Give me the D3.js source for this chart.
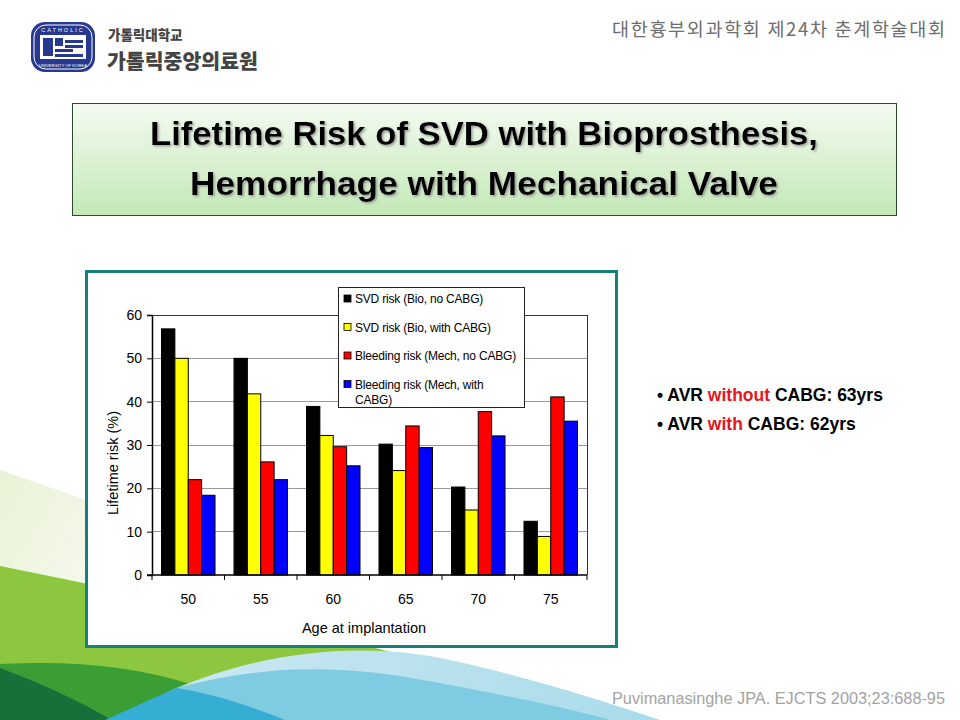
<!DOCTYPE html>
<meta charset="utf-8">
<script src="https://cdn.jsdelivr.net/npm/d3@7"></script>
<style>
  body { margin: 0; background: #fff; }
  svg { display: block; }
</style>
<body>
<div id="slide"></div>
<script>

// chart data
var ages = ["50", "55", "60", "65", "70", "75"];
var seriesNames = [
  "SVD risk (Bio, no CABG)",
  "SVD risk (Bio, with CABG)",
  "Bleeding risk (Mech, no CABG)",
  "Bleeding risk (Mech, with CABG)"
];
var seriesColors = ["#000000", "#ffff00", "#ff0000", "#0000ff"];
var svdNoCabg   = [56.8, 50.0, 38.9, 30.2, 20.3, 12.4];
var svdCabg     = [50.0, 41.8, 32.2, 24.1, 15.0, 8.9];
var bleedNoCabg = [22.0, 26.1, 29.6, 34.4, 37.7, 41.1];
var bleedCabg   = [18.4, 22.0, 25.2, 29.4, 32.1, 35.5];
var yTicks = [0, 10, 20, 30, 40, 50, 60];

var series = [svdNoCabg, svdCabg, bleedNoCabg, bleedCabg];

var W = 960, H = 720;
var svg = d3.select("#slide").append("svg")
  .attr("width", W).attr("height", H);

var defs = svg.append("defs");
var tg = defs.append("linearGradient").attr("id", "titleGrad")
  .attr("x1", 0).attr("y1", 0).attr("x2", 0).attr("y2", 1);
tg.append("stop").attr("offset", "0%").attr("stop-color", "#f4fbf1");
tg.append("stop").attr("offset", "100%").attr("stop-color", "#c3e8b6");

var pg = defs.append("linearGradient").attr("id", "paleGrad")
  .attr("x1", 0).attr("y1", 0).attr("x2", 1).attr("y2", 0.4);
pg.append("stop").attr("offset", "0%").attr("stop-color", "#e9f2d6");
pg.append("stop").attr("offset", "100%").attr("stop-color", "#ffffff");

var lb = defs.append("linearGradient").attr("id", "lightBlue")
  .attr("x1", 0).attr("y1", 0).attr("x2", 1).attr("y2", 0);
lb.append("stop").attr("offset", "0%").attr("stop-color", "#cde9f1");
lb.append("stop").attr("offset", "100%").attr("stop-color", "#a9dbea");

var sh = defs.append("filter").attr("id", "shadow");
sh.append("feDropShadow").attr("dx", 1.5).attr("dy", 1.5)
  .attr("stdDeviation", 0.8).attr("flood-color", "#888").attr("flood-opacity", 0.8);

// ---- background decoration (bottom left waves)
var deco = svg.append("g");
deco.append("path").attr("d", "M0,470 L0,570 L260,640 L260,560 Z").attr("fill", "url(#paleGrad)");
deco.append("path").attr("d", "M0,566 Q230,612 450,666 L330,720 L0,720 Z").attr("fill", "#8dc63f");
deco.append("path").attr("d", "M0,664 Q110,658 190,684 L240,720 L0,720 Z").attr("fill", "#3a9e34");
deco.append("path").attr("d", "M0,668 Q60,690 112,720 L0,720 Z").attr("fill", "#16703a");
deco.append("path").attr("d", "M172,690 C260,652 360,640 450,660 C540,680 600,700 660,720 L140,720 Z").attr("fill", "url(#lightBlue)");
deco.append("path").attr("d", "M176,688 C250,668 320,664 400,676 C480,690 560,706 610,720 L140,720 Z").attr("fill", "#7fcbe2");
deco.append("path").attr("d", "M176,688 C215,694 250,706 285,720 L105,720 Z").attr("fill", "#36aed4");

// ---- header
var logo = svg.append("g").attr("transform", "translate(31,22)");
logo.append("rect").attr("width", 64).attr("height", 50).attr("rx", 14).attr("fill", "#26388f");
logo.append("rect").attr("x", 3).attr("y", 3).attr("width", 58).attr("height", 44).attr("rx", 12)
  .attr("fill", "none").attr("stroke", "#fff").attr("stroke-width", 1);
logo.append("text").attr("x", 32).attr("y", 10).attr("text-anchor", "middle")
  .attr("font-family", "Liberation Sans, Arial").attr("font-size", 5.5).attr("fill", "#fff")
  .attr("letter-spacing", 2).text("CATHOLIC");
logo.append("text").attr("x", 32).attr("y", 45).attr("text-anchor", "middle")
  .attr("font-family", "Liberation Sans, Arial").attr("font-size", 4.2).attr("fill", "#fff")
  .text("UNIVERSITY OF KOREA");
logo.append("rect").attr("x", 9).attr("y", 13).attr("width", 46).attr("height", 24).attr("fill", "#fff");
[[12, 16, 10, 18], [24, 16, 8, 8], [34, 18, 18, 3], [34, 23, 18, 3], [24, 27, 18, 3], [24, 32, 28, 3], [12, 16, 2, 18]]
  .forEach(function(r) {
    logo.append("rect").attr("x", r[0]).attr("y", r[1]).attr("width", r[2]).attr("height", r[3])
      .attr("fill", "#26388f");
  });

svg.append("text").attr("x", 108).attr("y", 40)
  .attr("font-family", "Noto Sans CJK KR").attr("font-weight", 900)
  .attr("font-size", 13.5).attr("fill", "#444").text("가톨릭대학교");
svg.append("text").attr("x", 107).attr("y", 68.5)
  .attr("font-family", "Noto Sans CJK KR").attr("font-weight", 900)
  .attr("font-size", 20.5).attr("fill", "#444").text("가톨릭중앙의료원");

svg.append("text").attr("x", 612).attr("y", 36)
  .attr("font-family", "Noto Sans CJK KR").attr("font-size", 18.5)
  .attr("textLength", 333).attr("lengthAdjust", "spacing")
  .attr("fill", "#6e6e6e").text("대한흉부외과학회 제24차 춘계학술대회");

// ---- title box
svg.append("rect").attr("x", 72.5).attr("y", 103.5).attr("width", 824).attr("height", 112)
  .attr("fill", "url(#titleGrad)").attr("stroke", "#2e4a2e").attr("stroke-width", 1);
var titleLines = ["Lifetime Risk of SVD with Bioprosthesis,", "Hemorrhage with Mechanical Valve"];
var titleWidths = [668, 588];
svg.selectAll(".title").data(titleLines).enter().append("text")
  .attr("x", 484).attr("y", function(d, i) { return 145 + i * 50; })
  .attr("text-anchor", "middle")
  .attr("textLength", function(d, i) { return titleWidths[i]; })
  .attr("lengthAdjust", "spacingAndGlyphs")
  .attr("font-family", "Liberation Sans, Arial").attr("font-weight", "bold")
  .attr("font-size", 33).attr("fill", "#000").attr("filter", "url(#shadow)")
  .text(function(d) { return d; });

// ---- chart frame
svg.append("rect").attr("x", 86.5).attr("y", 271.5).attr("width", 530).attr("height", 375)
  .attr("fill", "#fff").attr("stroke", "#17807b").attr("stroke-width", 3);

var plot = {left: 152, right: 587, top: 315, bottom: 575};

var x = d3.scaleBand().domain(ages)
  .range([plot.left, plot.right]).paddingInner(0.262).paddingOuter(0.131);
var xs = d3.scaleBand().domain(d3.range(series.length))
  .range([0, x.bandwidth()]);
var y = d3.scaleLinear().domain([0, 60]).range([plot.bottom, plot.top]);

var chart = svg.append("g").attr("font-family", "Liberation Sans, Arial");

// gridlines
chart.selectAll(".grid").data(yTicks.slice(1)).enter().append("line")
  .attr("x1", plot.left).attr("x2", plot.right)
  .attr("y1", function(d) { return y(d); }).attr("y2", function(d) { return y(d); })
  .attr("stroke", function(d) { return d === 60 ? "#333" : "#999"; })
  .attr("stroke-width", 1).attr("shape-rendering", "crispEdges");
chart.append("line").attr("x1", plot.right).attr("x2", plot.right)
  .attr("y1", plot.top).attr("y2", plot.bottom)
  .attr("stroke", "#333").attr("shape-rendering", "crispEdges");

// bars
var groups = chart.selectAll(".grp").data(ages).enter().append("g")
  .attr("transform", function(d) { return "translate(" + x(d) + ",0)"; });
groups.selectAll("rect")
  .data(function(d, i) { return series.map(function(s, k) { return {k: k, v: s[i]}; }); })
  .enter().append("rect")
  .attr("x", function(d) { return xs(d.k); })
  .attr("width", xs.bandwidth())
  .attr("y", function(d) { return y(d.v); })
  .attr("height", function(d) { return y(0) - y(d.v); })
  .attr("fill", function(d) { return seriesColors[d.k]; })
  .attr("stroke", "#000").attr("stroke-width", 1);

// y axis
var yAxis = chart.append("g").attr("transform", "translate(" + plot.left + ",0)")
  .call(d3.axisLeft(y).tickValues(yTicks).tickSize(5).tickPadding(5));
yAxis.select(".domain").attr("stroke", "#000").attr("stroke-width", 1.5);
yAxis.selectAll("text").attr("font-size", 14).attr("fill", "#000");

// x axis: ticks on category boundaries
var xAxis = chart.append("g").attr("transform", "translate(0," + plot.bottom + ")");
xAxis.append("line").attr("x1", plot.left - 5).attr("x2", plot.right)
  .attr("stroke", "#000").attr("stroke-width", 1.5);
var bounds = d3.range(ages.length + 1).map(function(i) { return plot.left + i * x.step(); });
xAxis.selectAll(".xt").data(bounds).enter().append("line")
  .attr("x1", function(d) { return d; }).attr("x2", function(d) { return d; })
  .attr("y1", 0).attr("y2", 5).attr("stroke", "#000");
xAxis.selectAll(".xl").data(ages).enter().append("text")
  .attr("x", function(d) { return x(d) + x.bandwidth() / 2; })
  .attr("y", 29).attr("text-anchor", "middle")
  .attr("font-size", 14).text(function(d) { return d; });

chart.append("text").attr("x", 364).attr("y", 633).attr("text-anchor", "middle")
  .attr("font-size", 14.5).text("Age at implantation");
chart.append("text").attr("transform", "translate(118,463) rotate(-90)")
  .attr("text-anchor", "middle").attr("font-size", 14.5).text("Lifetime risk (%)");

// legend
var legend = chart.append("g").attr("transform", "translate(338,287)");
legend.append("rect").attr("x", 0.5).attr("y", 0.5).attr("width", 186).attr("height", 120)
  .attr("fill", "#fff").attr("stroke", "#222");
var rows = legend.selectAll(".row").data(seriesNames).enter().append("g")
  .attr("transform", function(d, i) { return "translate(0," + (12 + i * 28.5) + ")"; });
rows.append("rect").attr("x", 6).attr("y", -4).attr("width", 7).attr("height", 7)
  .attr("fill", function(d, i) { return seriesColors[i]; })
  .attr("stroke", "#000").attr("stroke-width", 0.8);
rows.append("text").attr("x", 17).attr("y", 4).attr("font-size", 12)
  .attr("letter-spacing", -0.2)
  .each(function(d, i) {
    var t = d3.select(this);
    if (i === 3) {
      t.append("tspan").attr("x", 17).text("Bleeding risk (Mech, with");
      t.append("tspan").attr("x", 17).attr("dy", 15).text("CABG)");
    } else {
      t.text(d);
    }
  });

// ---- bullets
var bullets = svg.append("g").attr("font-family", "Liberation Sans, Arial")
  .attr("font-weight", "bold").attr("font-size", 17.5);
var b1 = bullets.append("text").attr("x", 657).attr("y", 401);
b1.append("tspan").text("• AVR ");
b1.append("tspan").attr("fill", "#e8141b").text("without");
b1.append("tspan").text(" CABG: 63yrs");
var b2 = bullets.append("text").attr("x", 657).attr("y", 430);
b2.append("tspan").text("• AVR ");
b2.append("tspan").attr("fill", "#e8141b").text("with");
b2.append("tspan").text(" CABG: 62yrs");

// ---- citation
svg.append("text").attr("x", 612).attr("y", 704)
  .attr("font-family", "Liberation Sans, Arial").attr("font-size", 16)
  .attr("textLength", 333).attr("lengthAdjust", "spacingAndGlyphs")
  .attr("fill", "#a3a3a3").text("Puvimanasinghe JPA. EJCTS 2003;23:688-95");

</script>
</body>
